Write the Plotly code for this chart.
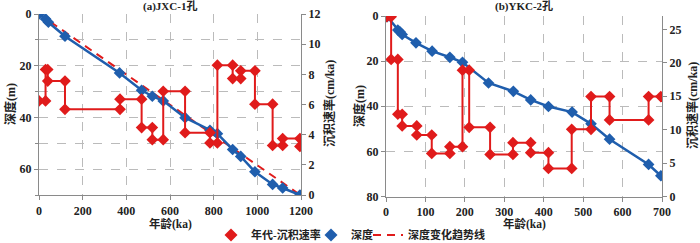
import plotly.graph_objects as go

# ---------- Panel (a) JXC-1 ----------
a_depth_age = [0, 30, 43, 119, 369, 470, 519, 569, 669, 783, 817, 887, 924, 989, 1070, 1116, 1195]
a_depth = [0, 1.9, 3.2, 8.6, 22.8, 29.5, 31.8, 33.6, 40.1, 45.0, 46.3, 52.4, 55.1, 61.0, 65.9, 67.3, 70.0]

a_rate_age = [0, 30, 30, 40, 40, 119, 119, 371, 371, 470, 470, 519, 519, 569, 569, 669, 669,
              783, 783, 817, 817, 887, 887, 924, 924, 989, 989, 1070, 1070, 1116, 1116, 1195, 1195]
a_rate = [6.24, 6.24, 8.32, 8.32, 7.55, 7.55, 5.68, 5.68, 6.35, 6.35, 4.47, 4.47, 3.67, 3.67, 6.88, 6.88, 4.13,
          4.13, 3.45, 3.45, 8.61, 8.61, 7.72, 7.72, 8.23, 8.23, 6.02, 6.02, 3.29, 3.29, 3.74, 3.74, 3.22]

a_trend_age = [0, 1200]
a_trend_depth = [0, 70.2]

# ---------- Panel (b) YKC-2 ----------
b_depth_age = [3, 30, 36, 41, 76, 117, 162, 194, 260, 323, 367, 412, 472, 520, 567, 666, 697]
b_depth = [0.3, 6.2, 7.1, 8.2, 11.9, 15.6, 18.3, 20.5, 29.7, 33.4, 37.2, 40.1, 42.6, 47.8, 54.6, 65.8, 70.8]

b_rate_age = [2, 13, 13, 30, 30, 41, 41, 78, 78, 116, 116, 162, 162, 194, 194, 211, 211, 264, 264,
              322, 322, 367, 367, 412, 412, 471, 471, 520, 520, 567, 567, 666, 666, 697]
b_rate = [26.9, 26.9, 20.5, 20.5, 12.3, 12.3, 10.55, 10.55, 9.2, 9.2, 6.45, 6.45, 7.45, 7.45, 18.9, 18.9,
          10.35, 10.35, 6.3, 6.3, 8.05, 8.05, 6.55, 6.55, 4.2, 4.2, 10.05, 10.05, 14.95, 14.95, 11.45, 11.45,
          14.95, 14.95]

RED = "#E01B1B"
BLUE = "#1F5EAD"
FONT = "Liberation Serif, Noto Sans CJK SC, serif"
W, H = 700, 243

fig = go.Figure()

# panel a
fig.add_trace(go.Scatter(x=a_rate_age, y=a_rate, xaxis="x", yaxis="y2", mode="lines+markers",
                         line=dict(color=RED, width=2), marker=dict(symbol="diamond", size=9, color=RED),
                         showlegend=False))
fig.add_trace(go.Scatter(x=a_trend_age, y=a_trend_depth, xaxis="x", yaxis="y", mode="lines",
                         line=dict(color=RED, width=2, dash="8px,6px"), showlegend=False))
fig.add_trace(go.Scatter(x=a_depth_age, y=a_depth, xaxis="x", yaxis="y", mode="lines+markers",
                         line=dict(color=BLUE, width=2.5), marker=dict(symbol="diamond", size=9, color=BLUE),
                         showlegend=False))
# panel b
fig.add_trace(go.Scatter(x=b_rate_age, y=b_rate, xaxis="x2", yaxis="y4", mode="lines+markers",
                         line=dict(color=RED, width=2), marker=dict(symbol="diamond", size=9, color=RED),
                         showlegend=False))
fig.add_trace(go.Scatter(x=b_depth_age, y=b_depth, xaxis="x2", yaxis="y3", mode="lines+markers",
                         line=dict(color=BLUE, width=2.5), marker=dict(symbol="diamond", size=9, color=BLUE),
                         showlegend=False))

# legend entries
fig.add_trace(go.Scatter(x=[None], y=[None], mode="markers", name="年代-沉积速率", legend="legend",
                         marker=dict(symbol="diamond", size=10, color=RED)))
fig.add_trace(go.Scatter(x=[None], y=[None], mode="markers", name="深度", legend="legend2",
                         marker=dict(symbol="diamond", size=10, color=BLUE)))
fig.add_trace(go.Scatter(x=[None], y=[None], mode="lines", name="深度变化趋势线", legend="legend3",
                         line=dict(color=RED, width=2, dash="8px,6px")))

def py(p):
    return 1 - p / H

def px(p):
    return p / W

grid = dict(showgrid=True, gridcolor="#BBBBBB", griddash="dash", gridwidth=1)
tickf = dict(family=FONT, size=12, color="#222", weight="bold")
axcommon = dict(showline=True, linecolor="#8A8A8A", linewidth=1.2, ticks="outside", ticklen=4,
                tickcolor="#8A8A8A", tickfont=tickf, zeroline=False, automargin=False)
topline = dict(showline=True, linecolor="#444444", linewidth=1.2, showticklabels=False, ticks="",
               showgrid=False, zeroline=False, side="top", automargin=False)

xa_dom = [px(39), px(301)]
xb_dom = [px(386), px(662)]
ya_dom = [py(195), py(14)]
yb_dom = [py(196.5), py(16)]

legfont = dict(family=FONT, size=11, color="#222", weight="bold")
def leg(xpix):
    return dict(orientation="h", x=px(xpix), xanchor="left", y=py(235), yanchor="middle",
                font=legfont, itemwidth=30, bgcolor="rgba(0,0,0,0)", borderwidth=0)

fig.update_layout(
    width=W, height=H, margin=dict(l=0, r=0, t=0, b=0, autoexpand=False),
    paper_bgcolor="white", plot_bgcolor="white",
    font=dict(family=FONT, size=12, color="#222"),
    xaxis=dict(domain=xa_dom, range=[0, 1200], dtick=200, anchor="y", **grid, **axcommon),
    yaxis=dict(domain=ya_dom, range=[70, 0], dtick=20, anchor="x", **grid, **axcommon,
               minor=dict(dtick=10, showgrid=True, gridcolor="#BBBBBB", griddash="dash", ticks="outside",
                          ticklen=3, tickcolor="#8A8A8A")),
    yaxis2=dict(domain=ya_dom, range=[0, 12], dtick=2, overlaying="y", side="right", anchor="x",
                showgrid=False, **axcommon),
    xaxis2=dict(domain=xb_dom, range=[0, 700], dtick=100, anchor="y3", **grid, **axcommon),
    yaxis3=dict(domain=yb_dom, range=[80, 0], dtick=20, anchor="x2", **grid, **axcommon),
    yaxis4=dict(domain=yb_dom, range=[0, 27], dtick=5, overlaying="y3", side="right", anchor="x2",
                showgrid=False, **axcommon),
    xaxis3=dict(overlaying="x", anchor="y", range=[0, 1200], **topline),
    xaxis4=dict(overlaying="x2", anchor="y3", range=[0, 700], **topline),
    legend=leg(211),
    legend2=leg(311),
    legend3=leg(368),
)

def ann(text, x, y, angle=0, size=12):
    fig.add_annotation(text=text, x=px(x), y=py(y), xref="paper", yref="paper", showarrow=False,
                       textangle=angle, xanchor="center", yanchor="middle",
                       font=dict(family=FONT, size=size, color="#222", weight="bold"))

ann("(a)JXC-1孔", 170, 7, size=11)
ann("(b)YKC-2孔", 524, 7, size=11)
ann("年龄(ka)", 170, 223.5, size=11.5)
ann("年龄(ka)", 524, 223.5, size=11.5)
ann("深度(m)", 10, 104, angle=-90)
ann("沉积速率(cm/ka)", 329, 104, angle=-90)
ann("深度(m)", 359, 106, angle=-90)
ann("沉积速率(cm/ka)", 692, 106, angle=-90)

fig.write_html("out.html", config={"displayModeBar": False},
               post_script="document.body.style.margin='0px';")
